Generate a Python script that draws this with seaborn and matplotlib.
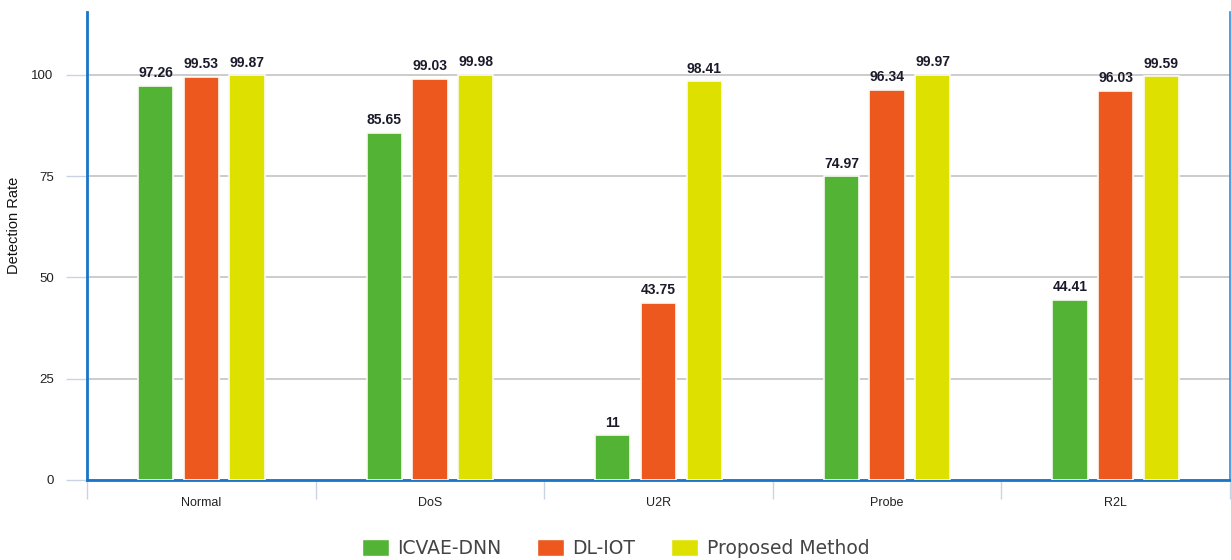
import matplotlib
matplotlib.use("Agg")
import matplotlib.pyplot as plt
import seaborn as sns
import pandas as pd
from matplotlib.patches import Patch

# Detection rate per attack category
categories = ["Normal", "DoS", "U2R", "Probe", "R2L"]
icvae_dnn = [97.26, 85.65, 11, 74.97, 44.41]
dl_iot = [99.53, 99.03, 43.75, 96.34, 96.03]
proposed = [99.87, 99.98, 98.41, 99.97, 99.59]
methods = ["ICVAE-DNN", "DL-IOT", "Proposed Method"]
colors = ["#52b335", "#ec581d", "#dee000"]

rows = []
for m, vals in zip(methods, [icvae_dnn, dl_iot, proposed]):
    for c, v in zip(categories, vals):
        rows.append({"Category": c, "Method": m, "Rate": v})
df = pd.DataFrame(rows)

sns.set_theme(style="white")
plt.rcParams["font.family"] = ["Liberation Sans", "DejaVu Sans"]

fig = plt.figure(figsize=(12.31, 5.6), dpi=100)
ax = fig.add_axes([87 / 1231, 1 - 480 / 560, 1143 / 1231, 468 / 560])

sns.barplot(data=df, x="Category", y="Rate", hue="Method", order=categories,
            hue_order=methods, palette=colors, saturation=1, width=0.6, gap=0.23,
            edgecolor="#fbfbf4", linewidth=1.2, ax=ax, legend=False, zorder=3)

ax.set_ylim(0, 115.5)
ax.set_xlim(-0.5, len(categories) - 0.5)
ax.set_yticks([0, 25, 50, 75, 100])
ax.yaxis.grid(True, color="#c4c4c4", linewidth=1.2, zorder=0)
ax.set_axisbelow(True)

# value labels above each bar
for cont in ax.containers:
    labels = [f"{v:g}" for v in cont.datavalues]
    ax.bar_label(cont, labels=labels, padding=4, fontsize=10, fontweight="bold",
                 color="#1a1a2a")

# category separators as major ticks, names as minor ticks
ax.set_xticks([i - 0.5 for i in range(len(categories) + 1)])
ax.set_xticklabels([])
ax.set_xticks(range(len(categories)), minor=True)
ax.set_xticklabels(categories, minor=True)
ax.tick_params(axis="x", which="major", length=14, width=1, color="#c8d4e4",
               direction="out", bottom=True)
ax.tick_params(axis="x", which="minor", length=0, pad=12, labelsize=9,
               labelcolor="#222222")
ax.tick_params(axis="y", length=15, width=1, color="#c8d4e4", left=True,
               labelsize=9.5, labelcolor="#222222", pad=9)

ax.set_xlabel("")
ax.set_ylabel("Detection Rate", fontsize=10.5, color="#111111")
ax.yaxis.set_label_coords((21 - 87) / 1143, (480 - 225) / 468)

for side in ["left", "bottom"]:
    ax.spines[side].set_color("#1a74c8")
    ax.spines[side].set_linewidth(2)
ax.spines["right"].set_color("#3a8ad8")
ax.spines["right"].set_linewidth(1.2)
ax.spines["top"].set_visible(False)

handles = [Patch(facecolor=c, edgecolor="#ffffff", label=m) for c, m in zip(colors, methods)]
fig.legend(handles=handles, loc="lower center", bbox_to_anchor=(0.5, -0.026),
           ncol=3, frameon=False, handlelength=1.45,
           handleheight=1.05, columnspacing=1.9, handletextpad=0.45,
           labelcolor="#444444", prop={"family": "DejaVu Sans", "size": 13.5})

fig.savefig("out.png", dpi=100)
